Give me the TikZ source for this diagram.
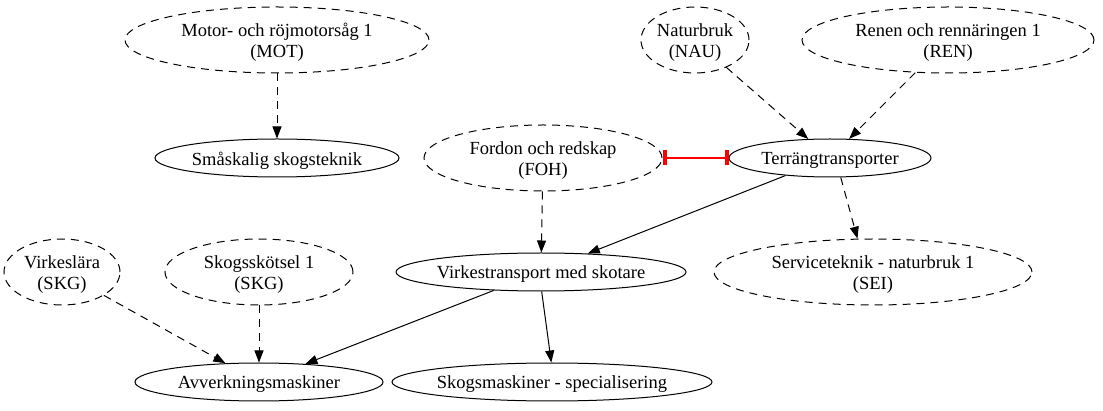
\documentclass[tikz,border=0pt]{standalone}
\usepackage{fontspec}
\setmainfont{Liberation Serif}
\usetikzlibrary{shapes.geometric,arrows.meta}
\begin{document}
\begin{tikzpicture}[x=1pt,y=-1pt,
  every node/.style={font=\fontsize{18.5}{21}\selectfont},
  base/.style={ellipse,draw,line width=1pt,inner sep=0pt},
  sell/.style 2 args={base,minimum width=#1pt,minimum height=#2pt},
  dell/.style 2 args={base,dash pattern=on 8pt off 6pt,minimum width=#1pt,minimum height=#2pt},
  every label/.style={align=center,yshift=-2.5pt,font=\fontsize{18.5}{21}\selectfont},
  arr/.style={line width=1pt,-{Triangle[length=12pt,width=9pt]}},
  darr/.style={arr,dash pattern=on 8pt off 6pt},
  tee/.style={draw=red,color=red,line width=1.2pt,{Rectangle[length=4pt,width=15pt]}-{Rectangle[length=4pt,width=15pt]}}
]
\useasboundingbox (0,0) rectangle (1103,411);
\node[dell={304}{66},label=center:{Motor- och röjmotorsåg 1\\(MOT)}] (mot) at (277,40) {};
\node[sell={244}{38},label=center:{Småskalig skogsteknik}] (sma) at (277,158) {};
\node[dell={108}{66},label=center:{Naturbruk\\(NAU)}] (nau) at (695,40) {};
\node[dell={292}{66},label=center:{Renen och rennäringen 1\\(REN)}] (ren) at (948,40) {};
\node[sell={202}{38},label=center:{Terrängtransporter}] (ter) at (830,158) {};
\node[dell={238}{66},label=center:{Fordon och redskap\\(FOH)}] (foh) at (543,158) {};
\node[sell={290}{38},label=center:{Virkestransport med skotare}] (vir) at (541,272) {};
\node[dell={318}{66},label=center:{Serviceteknik - naturbruk 1\\(SEI)}] (sei) at (873,272) {};
\node[dell={116}{66},label=center:{Virkeslära\\(SKG)}] (vkl) at (62,272) {};
\node[dell={188}{66},label=center:{Skogsskötsel 1\\(SKG)}] (sks) at (259,272) {};
\node[sell={248}{38},label=center:{Avverkningsmaskiner}] (avv) at (259,382) {};
\node[sell={320}{38},label=center:{Skogsmaskiner - specialisering}] (skm) at (552,382) {};

\draw[darr] (mot) -- (sma);
\draw[darr] (nau) -- (ter);
\draw[darr] (ren) -- (ter);
\draw[darr] (ter.-61) -- (sei.115);
\draw[darr] (foh) -- (vir);
\draw[arr] (ter) -- (vir);
\draw[darr] (vkl) -- (avv);
\draw[darr] (sks) -- (avv);
\draw[arr] (vir) -- (avv);
\draw[arr] (vir.-88) -- (skm.92);
\draw[tee] (foh) -- (ter);
\end{tikzpicture}
\end{document}
